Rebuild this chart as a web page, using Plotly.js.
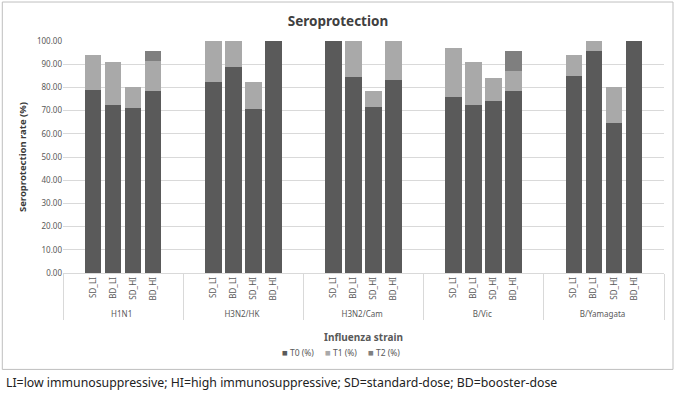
<!DOCTYPE html>
<html>
<head>
<meta charset="utf-8">
<script src="https://cdn.plot.ly/plotly-3.0.1.min.js"></script>
<style>
  html, body { margin: 0; padding: 0; background: #ffffff; }
  #chart { width: 676px; height: 393px; }
</style>
</head>
<body>
<div id="chart"></div>
<script>
// Influenza strains (outer category level) and vaccine groups (inner level)
const strains = ["H1N1", "H3N2/HK", "H3N2/Cam", "B/Vic", "B/Yamagata"];
const groups = ["SD_LI", "BD_LI", "SD_HI", "BD_HI"];

// Seroprotection rate (%) per strain, in the order of `groups`
const t0 = {
  "H1N1":       [78.9, 72.5, 71.0, 78.3],
  "H3N2/HK":    [82.3, 88.9, 70.7, 100.0],
  "H3N2/Cam":   [100.0, 84.5, 71.4, 83.3],
  "B/Vic":      [75.8, 72.5, 74.2, 78.3],
  "B/Yamagata": [84.9, 95.5, 64.5, 100.0]
};
const t1 = {
  "H1N1":       [15.1, 18.3, 9.3, 13.1],
  "H3N2/HK":    [17.7, 11.1, 11.6, 0],
  "H3N2/Cam":   [0, 15.5, 7.2, 16.7],
  "B/Vic":      [21.0, 18.3, 9.7, 8.8],
  "B/Yamagata": [9.1, 4.5, 15.8, 0]
};
const t2 = {
  "H1N1":       [0, 0, 0, 4.1],
  "H3N2/HK":    [0, 0, 0, 0],
  "H3N2/Cam":   [0, 0, 0, 0],
  "B/Vic":      [0, 0, 0, 8.4],
  "B/Yamagata": [0, 0, 0, 0]
};
const seriesNames = ["T0 (%)", "T1 (%)", "T2 (%)"];
const seriesColors = ["#5a5a5a", "#a9a9a9", "#7f7f7f"];

// Each strain block gets an empty slot on both sides of its four bars
const outer = [], inner = [];
strains.forEach(s => {
  outer.push(s); inner.push("");
  groups.forEach(g => { outer.push(s); inner.push(g); });
  outer.push(s); inner.push(" ");
});

function column(table) {
  const out = [];
  strains.forEach(s => {
    out.push(null);
    table[s].forEach(v => out.push(v));
    out.push(null);
  });
  return out;
}

const traces = [t0, t1, t2].map((tbl, i) => ({
  type: "bar",
  name: seriesNames[i],
  x: [outer, inner],
  y: column(tbl),
  marker: { color: seriesColors[i], line: { width: 0 } },
  hoverinfo: "x+y+name",
  showlegend: false
}));

const F = "Noto Sans, Open Sans, sans-serif";

// Compact key below the axis title: small coloured squares followed by the series names
const keyText = seriesNames.map((n, i) =>
  '<span style="color:' + seriesColors[i] + ';font-size:9.5px">■</span> ' + n
).join("&nbsp;&nbsp;&nbsp;&nbsp;&nbsp;");

const layout = {
  width: 676,
  height: 393,
  paper_bgcolor: "#ffffff",
  plot_bgcolor: "#ffffff",
  margin: { l: 63, r: 12, t: 41, b: 120 },
  barmode: "stack",
  bargap: 0.17,
  showlegend: false,
  title: {
    text: "<b>Seroprotection</b>",
    font: { family: F, size: 13.5, color: "#404040" },
    x: 0.5, xanchor: "center",
    y: 0.945, yanchor: "middle"
  },
  font: { family: F, color: "#595959" },
  xaxis: {
    type: "multicategory",
    tickangle: -90,
    tickfont: { family: F, size: 8, color: "#595959" },
    showdividers: true,
    dividercolor: "#d9d9d9",
    dividerwidth: 1,
    showline: true,
    linecolor: "#d9d9d9",
    linewidth: 1,
    ticks: "",
    showgrid: false,
    title: {
      text: "<b>Influenza strain</b>",
      font: { family: F, size: 10, color: "#595959" },
      standoff: 15
    }
  },
  yaxis: {
    range: [0, 100],
    dtick: 10,
    tickformat: ".2f",
    tickfont: { family: F, size: 8, color: "#595959" },
    gridcolor: "#d9d9d9",
    gridwidth: 1,
    zeroline: false,
    showline: false,
    ticks: "",
    ticklen: 0,
    title: {
      text: "<b>Seroprotection rate (%)</b>",
      font: { family: F, size: 9.5, color: "#3a3a3a" },
      standoff: 8
    }
  },
  shapes: [
    {
      type: "rect", xref: "paper", yref: "paper",
      x0: -0.101, x1: 1.015, y0: -0.4156, y1: 1.168,
      line: { color: "#bfbfbf", width: 1 }, fillcolor: "rgba(0,0,0,0)", layer: "below"
    }
  ],
  annotations: [
    {
      text: keyText,
      xref: "paper", yref: "paper",
      x: 0.463, xanchor: "center",
      y: -0.342, yanchor: "middle",
      showarrow: false,
      font: { family: F, size: 8.5, color: "#595959" }
    },
    {
      text: "LI=low immunosuppressive; HI=high immunosuppressive; SD=standard-dose; BD=booster-dose",
      xref: "paper", yref: "paper",
      x: -0.099, xanchor: "left",
      y: -0.474, yanchor: "middle",
      showarrow: false,
      font: { family: F, size: 12.3, color: "#222222" }
    }
  ]
};

Plotly.newPlot("chart", traces, layout, { displayModeBar: false, staticPlot: true });
</script>
</body>
</html>
